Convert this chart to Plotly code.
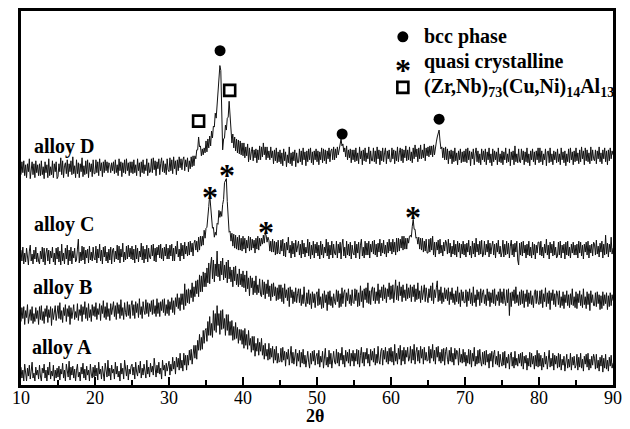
import numpy as np
import plotly.graph_objects as go

# 2-theta sampling (degrees), step 0.125 from 10 to 90 -> 641 points
two_theta = np.round(np.arange(10, 90.001, 0.125), 3)

# intensities (arbitrary units, stacked offsets), one line = 5 degrees (40 points)
alloy_A = [
    18,7,15,4,21,10,4,17,9,20,6,14,23,7,12,4,18,10,15,6,20,9,4,17,12,21,7,15,4,18,10,23,6,14,9,20,4,15,7,17,
    8,19,5,16,11,22,7,15,4,21,13,8,24,5,18,10,19,7,16,4,15,21,8,13,4,18,11,22,7,16,5,19,10,15,4,21,11,7,18,8,
    20,9,17,5,23,11,16,6,19,12,4,22,14,8,25,9,17,5,20,12,16,6,23,11,19,8,14,4,22,11,17,6,25,12,9,20,5,16,11,19,
    21,10,18,6,23,13,9,20,12,24,7,17,10,21,14,7,25,11,18,8,22,13,19,10,27,14,8,20,12,23,11,17,6,25,15,20,9,22,14,19,
    24,10,21,14,28,16,24,11,28,18,27,15,32,17,25,14,32,20,30,15,30,20,35,25,36,21,33,40,27,40,26,45,35,51,35,48,36,55,42,55,
    57,44,64,50,69,50,62,48,75,55,72,53,80,60,72,51,75,56,76,57,67,50,71,55,71,50,64,50,65,45,59,46,63,47,58,42,56,45,56,41,
    55,37,57,40,51,36,55,40,47,33,49,35,49,29,42,34,47,30,43,34,47,30,40,26,42,29,36,25,42,26,37,28,39,22,36,25,39,22,32,23,
    24,37,23,38,25,34,19,33,26,36,20,31,39,22,33,21,29,36,19,32,24,35,18,33,22,36,21,30,18,31,34,23,17,32,21,34,24,35,20,29,
    32,21,35,18,29,23,34,17,31,37,20,28,18,35,21,32,17,29,34,23,21,36,22,33,19,32,25,38,21,30,18,35,24,33,22,36,19,32,24,35,
    19,32,24,36,21,35,18,30,38,22,33,19,33,26,37,22,31,19,36,25,34,23,37,20,31,22,39,25,21,34,37,20,35,26,38,23,34,21,37,24,
    38,23,34,20,41,24,32,21,37,26,40,20,35,24,38,21,35,28,38,24,27,39,22,36,25,41,21,33,38,24,35,22,39,27,36,21,38,25,33,24,
    25,39,22,36,27,41,24,35,21,38,28,39,24,33,22,36,24,37,20,34,38,26,21,35,24,38,23,32,20,37,26,35,33,20,37,23,31,22,36,23,
    33,19,30,22,36,21,35,18,32,24,38,19,29,21,35,22,36,24,19,33,21,34,20,35,23,31,17,32,24,34,18,31,35,21,29,20,34,18,31,23,
    19,33,20,34,17,28,22,31,16,30,33,19,28,17,34,20,27,19,31,22,32,19,33,16,29,22,30,15,27,19,33,18,32,21,29,16,30,19,35,18,
    32,19,30,15,27,18,33,21,29,16,26,35,18,27,19,32,15,30,21,29,17,32,18,31,15,26,20,29,14,28,31,17,26,18,32,15,28,20,29,17,
    20,31,15,28,18,32,17,26,14,29,21,31,18,32,15,26,17,29,20,31,27,16,31,17,25,14,28,19,30,13,27,17,31,16,25,14,28,19,30,17,
    22,
]

alloy_B = [
    64,78,67,79,61,75,68,81,62,73,76,65,79,62,72,64,78,67,75,61,79,66,80,65,74,62,77,69,80,63,76,68,79,60,77,66,74,80,65,73,
    80,67,83,66,75,63,78,70,81,64,77,69,80,61,78,67,75,81,66,74,68,82,65,76,70,81,64,79,71,84,67,78,65,82,68,76,64,81,70,79,
    69,83,66,77,71,82,65,80,72,85,68,79,66,83,69,77,65,82,71,80,84,69,80,66,83,72,81,67,86,70,78,66,83,73,69,84,70,81,67,80,
    85,70,81,67,84,73,82,68,87,71,79,67,84,75,71,86,72,83,69,82,74,85,71,86,72,80,69,87,72,83,69,84,75,86,73,87,70,81,72,86,
    70,84,76,88,73,85,71,88,79,92,77,88,75,92,81,92,76,102,80,96,83,97,82,96,88,103,84,99,89,105,92,106,89,111,94,110,94,114,99,113,
    99,118,103,123,102,121,129,107,126,104,122,110,135,109,122,105,125,111,128,106,121,108,124,103,126,107,119,104,116,99,119,105,120,101,112,99,117,101,112,99,
    115,98,111,94,115,97,108,90,110,98,108,91,105,93,110,91,101,93,107,91,89,106,91,104,87,102,92,106,89,100,85,102,89,103,90,99,85,98,86,101,
    87,101,84,98,82,102,88,96,85,98,79,99,88,96,82,94,84,98,83,92,97,83,97,80,91,82,99,84,79,93,82,96,81,92,77,94,83,92,78,91,
    94,80,97,81,89,77,92,78,95,83,91,75,94,81,95,80,89,78,92,84,81,96,84,95,78,92,79,98,82,93,96,79,93,85,97,82,91,80,96,83,
    82,97,85,96,79,93,80,100,84,95,78,97,86,98,83,103,82,95,81,96,99,85,98,82,94,85,102,82,96,88,99,85,101,87,98,83,97,89,103,86,
    100,87,101,83,97,106,86,100,85,104,90,99,84,101,88,96,85,102,87,98,88,101,84,99,89,101,84,97,86,103,87,95,83,100,86,97,101,84,98,89,
    83,97,88,100,85,103,82,96,88,98,105,84,96,85,99,82,93,84,98,87,96,85,98,81,94,86,98,83,92,81,95,84,99,82,93,79,96,85,94,83,
    83,96,79,94,85,97,82,93,80,99,83,91,79,96,86,94,80,97,83,93,96,82,91,80,97,85,94,79,93,83,96,82,97,80,91,85,94,80,97,83,
    94,82,97,85,80,96,83,97,70,93,79,94,85,96,82,99,83,91,80,94,81,96,82,95,78,92,84,96,79,93,82,95,81,90,78,93,96,82,95,84,
    81,95,82,96,78,92,84,98,79,93,82,95,76,93,85,96,81,92,79,95,92,81,95,78,89,80,94,77,91,83,95,80,91,78,92,81,97,80,89,78,
    94,77,92,83,95,80,91,78,97,81,89,77,94,81,92,75,95,83,91,80,80,93,79,94,82,91,76,90,77,94,80,91,82,93,76,90,79,93,80,91,
    85,
]

alloy_C = [
    136,125,139,122,133,124,138,127,121,135,141,125,132,122,136,127,139,124,133,125,122,135,127,139,124,138,121,133,138,125,136,122,135,128,139,124,133,121,138,127,
    139,124,135,121,142,125,133,122,138,127,141,121,136,125,139,122,135,128,138,124,126,137,147,123,134,125,140,126,139,122,136,128,137,123,140,126,134,125,139,128,
    126,140,123,137,128,142,125,136,122,139,129,140,125,134,123,137,126,139,122,136,138,124,135,127,141,126,140,123,137,129,143,124,134,126,140,127,141,129,138,127,
    140,126,137,123,141,127,138,124,135,129,143,126,140,123,137,127,141,124,138,129,127,141,130,142,125,138,124,139,131,141,128,142,127,138,125,139,130,142,127,138,
    127,141,130,142,125,138,125,140,132,145,129,137,125,143,130,141,127,144,132,140,130,144,131,145,134,143,130,143,146,136,145,134,149,136,150,140,150,141,156,148,
    158,159,176,180,192,182,176,158,159,149,154,151,163,162,176,169,175,170,182,187,204,206,208,185,171,154,155,145,153,140,152,138,151,137,149,136,151,136,148,135,
    150,137,148,133,146,138,150,135,149,136,147,138,146,133,148,137,150,136,148,140,148,142,151,143,153,151,144,149,146,135,145,134,147,134,145,131,144,132,146,133,
    132,146,135,147,130,143,129,144,136,149,133,141,128,145,132,143,129,146,134,142,145,131,142,128,146,132,143,129,139,133,147,130,144,127,141,131,145,128,142,133,
    144,130,141,127,145,131,142,128,139,133,147,130,144,127,141,131,145,128,142,133,131,145,128,142,133,144,127,141,147,130,139,128,145,131,142,130,144,127,141,133,
    131,145,128,142,133,144,127,141,147,130,139,128,145,131,143,131,145,128,142,134,145,132,146,131,142,129,143,134,147,130,143,133,146,132,141,129,144,133,147,135,
    144,132,147,134,144,131,148,134,148,135,147,138,150,136,150,137,148,137,148,143,150,151,149,160,167,157,157,148,149,142,149,137,148,136,148,134,145,135,147,133,
    133,147,134,148,136,150,131,144,129,144,136,146,132,147,133,141,130,144,135,146,143,132,147,133,143,129,140,132,146,131,142,129,145,134,143,128,142,132,145,131,
    142,129,143,134,146,131,140,128,145,132,143,129,148,134,142,131,145,132,146,129,132,145,131,142,134,146,129,143,132,140,145,131,142,128,143,134,146,132,140,129,
    134,146,129,142,131,145,132,143,128,140,146,131,142,129,143,134,145,126,121,143,131,144,130,145,133,141,128,142,131,145,130,139,128,144,131,142,127,141,133,144,
    144,131,145,130,139,128,142,133,147,131,141,127,144,133,142,130,145,131,139,128,130,144,131,145,128,141,133,142,127,144,131,145,130,139,128,142,133,144,131,141,
    131,142,128,145,133,144,130,141,127,142,134,144,131,145,128,141,133,142,130,144,142,131,146,132,140,129,143,134,145,128,142,131,151,132,143,129,142,134,149,132,
    138,
]

alloy_D = [
    212,225,214,226,211,222,209,223,215,228,208,220,225,212,223,209,226,214,222,211,223,211,226,212,220,208,225,214,222,209,228,211,220,212,226,209,223,215,225,208,
    210,223,215,229,212,226,209,221,224,213,227,210,223,215,226,212,230,213,221,209,227,213,224,209,223,215,229,210,221,212,226,213,227,209,224,215,223,210,227,213,
    213,227,214,225,211,228,216,224,210,225,214,227,216,225,214,224,222,214,224,216,225,213,227,214,222,211,228,216,225,210,224,214,227,213,228,216,224,211,225,214,
    225,213,227,214,222,211,228,216,224,210,225,214,227,213,222,216,228,211,224,214,215,228,214,229,217,226,211,225,218,228,212,223,229,215,226,214,223,212,228,217,
    215,229,216,227,213,230,218,226,212,227,216,230,219,228,217,227,230,216,227,220,229,215,226,218,230,220,231,221,231,228,237,237,250,240,241,231,238,232,239,234,
    246,235,248,239,251,241,256,249,261,260,274,269,283,289,311,322,317,272,237,248,249,262,257,269,270,286,272,261,244,253,239,250,236,248,234,247,233,246,232,244,
    231,244,229,240,231,243,225,239,227,235,240,226,237,229,238,224,237,227,241,227,240,230,244,232,240,227,240,229,236,227,240,229,236,223,237,226,239,224,235,225,
    237,223,234,221,238,226,235,220,232,224,240,223,234,221,235,226,237,220,234,224,224,238,225,236,222,239,227,235,221,236,225,238,227,239,224,235,222,236,227,238,
    225,236,222,235,227,239,224,238,226,237,223,236,228,239,225,236,238,227,240,227,238,229,240,232,239,243,248,241,243,235,239,230,241,227,237,229,238,224,237,227,
    237,225,239,226,234,223,240,228,236,222,237,226,239,225,234,228,240,223,236,226,226,239,225,236,223,240,228,237,222,236,226,239,225,234,239,223,236,228,237,225,
    225,239,228,237,223,236,226,240,225,234,239,226,238,224,237,229,241,226,237,227,240,226,235,224,239,228,242,230,238,225,239,228,242,228,237,229,243,226,239,231,
    240,230,241,232,241,230,242,232,241,245,250,255,257,246,238,240,229,239,227,240,227,238,223,236,228,237,223,236,225,239,226,234,222,236,227,238,224,235,225,236,
    225,238,224,239,227,236,221,235,228,238,222,233,239,225,236,224,233,222,238,227,236,225,238,222,235,227,239,224,233,221,238,225,236,227,235,222,239,225,233,224,
    236,222,235,227,239,224,233,225,238,221,235,227,236,222,241,225,233,224,238,225,224,238,227,236,222,235,225,239,224,233,221,236,227,238,225,235,222,236,227,239,
    224,239,225,236,222,233,227,238,221,235,236,224,239,225,233,222,236,227,235,224,238,225,233,222,239,227,235,224,236,221,233,225,238,224,239,227,235,222,236,225,
    239,226,234,223,237,225,240,228,236,222,239,226,237,225,234,223,240,226,237,228,226,237,223,236,228,240,225,234,223,237,228,239,225,236,222,237,226,239,228,236,
    232,
]

for _name, _s in [("A", alloy_A), ("B", alloy_B), ("C", alloy_C), ("D", alloy_D)]:
    assert len(_s) == len(two_theta), (_name, len(_s))

# phase markers (position in 2theta, height)
bcc_x = [36.9, 53.4, 66.5]
bcc_y = [337, 253, 268]
square_x = [34.0, 38.2]
square_y = [266, 297]
quasi_x = [35.6, 37.9, 43.1, 63.0]
quasi_y = [198, 220, 162, 177]

# sample labels
label_text = ["alloy D", "alloy C", "alloy B", "alloy A"]
label_x = [11.5, 11.5, 11.4, 11.2]
label_y = [240, 162, 98, 38]

# legend entries
legend_text = ["bcc phase", "quasi crystalline",
               "(Zr,Nb)<sub>73</sub>(Cu,Ni)<sub>14</sub>Al<sub>13</sub>"]
legend_sym_x = 61.6
legend_text_x = 64.2
legend_y = [351, 326, 300]

x_ticks = [10, 20, 30, 40, 50, 60, 70, 80, 90]

FONT = "Liberation Serif"

fig = go.Figure()
for series in [alloy_A, alloy_B, alloy_C, alloy_D]:
    fig.add_trace(go.Scatter(x=two_theta, y=series, mode="lines",
                             line=dict(color="#111111", width=1),
                             showlegend=False, hoverinfo="skip"))

# bcc circles
fig.add_trace(go.Scatter(x=bcc_x + [legend_sym_x], y=bcc_y + [legend_y[0]], mode="markers",
                         marker=dict(symbol="circle", size=11, color="black"),
                         showlegend=False, hoverinfo="skip"))
# squares
fig.add_trace(go.Scatter(x=square_x + [legend_sym_x], y=square_y + [legend_y[2]], mode="markers",
                         marker=dict(symbol="square-open", size=11, color="black",
                                     line=dict(width=2.6, color="black")),
                         showlegend=False, hoverinfo="skip"))

annotations = []
for qx, qy in zip(quasi_x + [legend_sym_x], quasi_y + [legend_y[1]]):
    annotations.append(dict(x=qx, y=qy, text="<b>*</b>", showarrow=False,
                            font=dict(family=FONT, size=32, color="black"),
                            xanchor="center", yanchor="middle", yshift=-8))
for t, lx, ly in zip(label_text, label_x, label_y):
    annotations.append(dict(x=lx, y=ly, text="<b>%s</b>" % t, showarrow=False,
                            font=dict(family=FONT, size=20, color="black"),
                            xanchor="left", yanchor="middle"))
for t, ly in zip(legend_text, legend_y):
    annotations.append(dict(x=legend_text_x, y=ly, text="<b>%s</b>" % t, showarrow=False,
                            font=dict(family=FONT, size=20, color="black"),
                            xanchor="left", yanchor="middle"))
for tv in x_ticks:
    annotations.append(dict(x=tv, y=-0.035, yref="paper", text=str(tv), showarrow=False,
                            font=dict(family=FONT, size=18, color="black"),
                            xanchor="center", yanchor="middle", height=14))
annotations.append(dict(x=0.497, y=-0.083, xref="paper", yref="paper", text="<b>2θ</b>",
                        showarrow=False, font=dict(family=FONT, size=18, color="black"),
                        xanchor="center", yanchor="middle", height=14))

fig.update_layout(
    width=630, height=429,
    margin=dict(l=21, r=17, t=8, b=44),
    paper_bgcolor="white", plot_bgcolor="white",
    showlegend=False,
    annotations=annotations,
    xaxis=dict(range=[10, 90], tickvals=x_ticks, ticks="inside", ticklen=8, tickwidth=2,
               tickcolor="black", showline=True, linewidth=3, linecolor="black",
               mirror=True, showgrid=False, zeroline=False, showticklabels=False,
               minor=dict(dtick=5, tick0=5, ticks="inside", ticklen=5, tickwidth=2,
                          tickcolor="black", showgrid=False)),
    yaxis=dict(range=[0, 377], showticklabels=False, ticks="", showline=True,
               linewidth=3, linecolor="black", mirror=True, showgrid=False,
               zeroline=False),
)

fig.write_html("out.html", config={"displayModeBar": False},
               post_script="document.body.style.margin='0';")
